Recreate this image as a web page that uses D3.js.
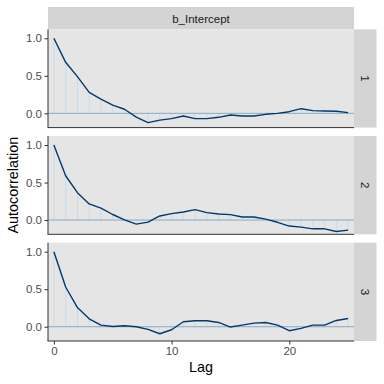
<!DOCTYPE html>
<html>
<head>
<meta charset="utf-8">
<script src="https://cdn.jsdelivr.net/npm/d3@7"></script>
<style>
  html, body { margin: 0; padding: 0; background: #fff; }
  svg { display: block; font-family: "Liberation Sans", Arial, sans-serif; }
</style>
</head>
<body>
<div id="chart"></div>
<script>
const parameter = 'b_Intercept';
const chains = ['1', '2', '3'];
const lags = d3.range(0, 26);
const chain1 = [1.0, 0.68, 0.49, 0.28, 0.19, 0.11, 0.055, -0.05, -0.124, -0.09, -0.071, -0.036, -0.071,
                -0.071, -0.053, -0.022, -0.036, -0.036, -0.013, 0.0, 0.022, 0.062, 0.036, 0.031, 0.027, 0.009];
const chain2 = [1.0, 0.59, 0.365, 0.215, 0.16, 0.074, 0.002, -0.054, -0.027, 0.054, 0.085, 0.108, 0.139,
                0.099, 0.081, 0.072, 0.04, 0.04, 0.013, -0.03, -0.08, -0.094, -0.117, -0.117, -0.152, -0.135];
const chain3 = [1.0, 0.53, 0.255, 0.106, 0.022, 0.004, 0.013, 0.0, -0.035, -0.093, -0.04, 0.066, 0.079,
                0.079, 0.057, -0.004, 0.022, 0.048, 0.057, 0.022, -0.053, -0.022, 0.022, 0.022, 0.084, 0.11];
const acf = [chain1, chain2, chain3];
const xTicks = [0, 10, 20];
const yTicks = [0, 0.5, 1];

const W = 384, H = 384;
const left = 48, right = 354;
const panelTops = [29.3, 136, 242.7];
const panelH = 98.3;

const svg = d3.select('#chart').append('svg')
  .attr('width', W)
  .attr('height', H);

const x = d3.scaleLinear().domain([-0.5, 25.5]).range([left, right]);

// top strip
svg.append('rect')
  .attr('x', left).attr('y', 7)
  .attr('width', right - left).attr('height', panelTops[0] - 7)
  .attr('fill', '#d4d4d4');
svg.append('text')
  .attr('x', (left + right) / 2).attr('y', 22.5)
  .attr('text-anchor', 'middle')
  .attr('font-size', 11.5)
  .attr('fill', '#1a1a1a')
  .text(parameter);

chains.forEach((ch, i) => {
  const top = panelTops[i];
  const y = d3.scaleLinear().domain([-0.19, 1.12]).range([top + panelH, top]);
  const g = svg.append('g');

  g.append('rect')
    .attr('x', left).attr('y', top)
    .attr('width', right - left).attr('height', panelH)
    .attr('fill', '#e5e5e5');

  // right strip
  svg.append('rect')
    .attr('x', right).attr('y', top)
    .attr('width', 22.5).attr('height', panelH)
    .attr('fill', '#d4d4d4');
  svg.append('text')
    .attr('transform', `translate(${right + 11.2},${top + panelH / 2}) rotate(90)`)
    .attr('text-anchor', 'middle')
    .attr('dy', '0.35em')
    .attr('font-size', 11.5)
    .attr('fill', '#1a1a1a')
    .text(ch);

  // segments
  g.selectAll('line.seg')
    .data(acf[i])
    .enter()
    .append('line')
    .attr('class', 'seg')
    .attr('x1', (d, j) => x(lags[j]))
    .attr('x2', (d, j) => x(lags[j]))
    .attr('y1', y(0))
    .attr('y2', d => y(d))
    .attr('stroke', '#c8dcec')
    .attr('stroke-width', 1);

  // zero line
  g.append('line')
    .attr('x1', left).attr('x2', right)
    .attr('y1', y(0)).attr('y2', y(0))
    .attr('stroke', '#86abc6')
    .attr('stroke-width', 1);

  const line = d3.line()
    .x((d, j) => x(lags[j]))
    .y(d => y(d));

  g.append('path')
    .datum(acf[i])
    .attr('d', line)
    .attr('fill', 'none')
    .attr('stroke', '#03396c')
    .attr('stroke-width', 1.4)
    .attr('stroke-linejoin', 'round');

  // y axis
  const ay = svg.append('g')
    .attr('transform', `translate(${left},0)`)
    .call(d3.axisLeft(y).tickValues(yTicks).tickFormat(d3.format('.1f')).tickSize(3.5).tickPadding(2.5));
  ay.select('.domain').remove();
  ay.selectAll('.tick line').attr('stroke', '#333333');
  ay.selectAll('.tick text').attr('font-size', 11.5).attr('fill', '#4d4d4d')
    .attr('font-family', '"Liberation Sans", Arial, sans-serif');

  // axis lines
  svg.append('line')
    .attr('x1', left).attr('x2', left)
    .attr('y1', top).attr('y2', top + panelH)
    .attr('stroke', '#333333').attr('stroke-width', 1);
  svg.append('line')
    .attr('x1', left - 0.5).attr('x2', right)
    .attr('y1', top + panelH).attr('y2', top + panelH)
    .attr('stroke', '#333333').attr('stroke-width', 1);

  if (i === chains.length - 1) {
    const ax = svg.append('g')
      .attr('transform', `translate(0,${top + panelH})`)
      .call(d3.axisBottom(x).tickValues(xTicks).tickSize(3.5).tickPadding(2));
    ax.select('.domain').remove();
    ax.selectAll('.tick line').attr('stroke', '#333333');
    ax.selectAll('.tick text').attr('font-size', 11.5).attr('fill', '#4d4d4d')
      .attr('font-family', '"Liberation Sans", Arial, sans-serif');
  }
});

svg.append('text')
  .attr('x', (left + right) / 2).attr('y', 372)
  .attr('text-anchor', 'middle')
  .attr('font-size', 14.4)
  .attr('fill', '#000')
  .text('Lag');

svg.append('text')
  .attr('transform', `translate(18,${(panelTops[0] + panelTops[2] + panelH) / 2}) rotate(-90)`)
  .attr('text-anchor', 'middle')
  .attr('font-size', 14.4)
  .attr('fill', '#000')
  .text('Autocorrelation');
</script>
</body>
</html>
